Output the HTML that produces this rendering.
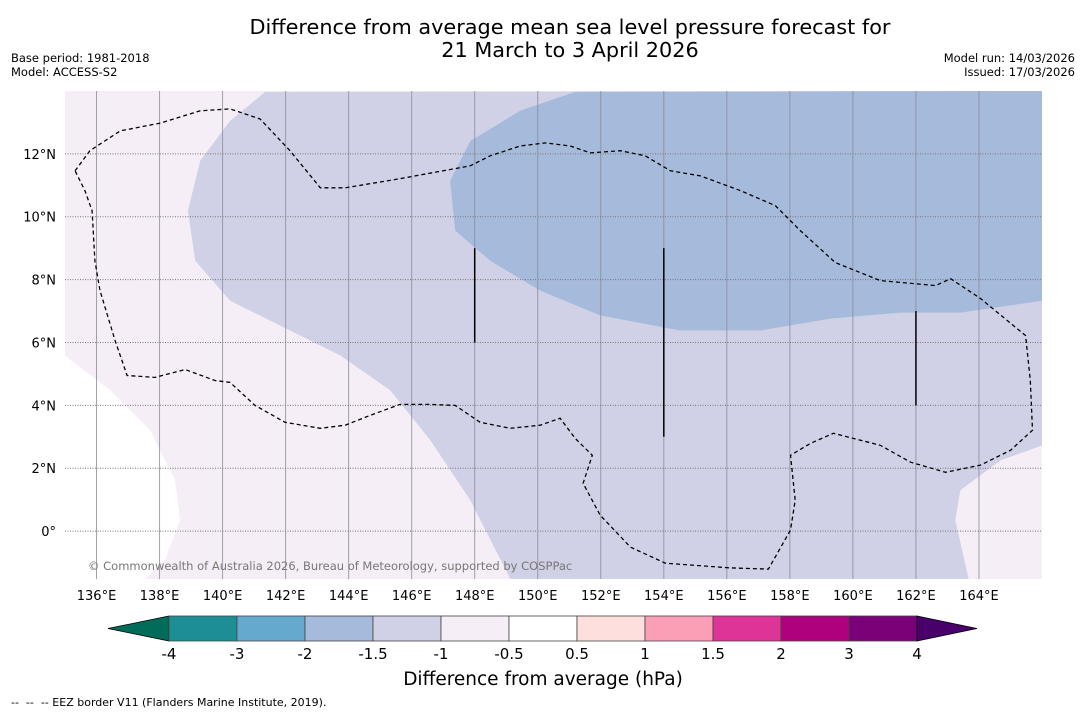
<!DOCTYPE html>
<html><head><meta charset="utf-8"><style>
body{margin:0;background:#fff;width:1085px;height:713px;overflow:hidden;font-family:"DejaVu Sans","Liberation Sans",sans-serif}
svg{display:block}
</style></head><body>
<svg id="chart" width="1085" height="713" viewBox="0 0 1085 713" xmlns="http://www.w3.org/2000/svg" font-family="DejaVu Sans, Liberation Sans, sans-serif">
<text x="570" y="34" font-size="20.8" text-anchor="middle">Difference from average mean sea level pressure forecast for</text>
<text x="570" y="57" font-size="20.8" text-anchor="middle">21 March to 3 April 2026</text>
<text x="11" y="62" font-size="11.5">Base period: 1981-2018</text>
<text x="11" y="76" font-size="11.5">Model: ACCESS-S2</text>
<text x="1075" y="62" font-size="11.5" text-anchor="end">Model run: 14/03/2026</text>
<text x="1075" y="76" font-size="11.5" text-anchor="end">Issued: 17/03/2026</text>
<g id="map"></g>
<g id="cbar"></g>
<text x="543" y="685" font-size="18.5" text-anchor="middle">Difference from average (hPa)</text>
<text x="11" y="706" font-size="11" xml:space="preserve" style="white-space:pre">--  --  -- EEZ border V11 (Flanders Marine Institute, 2019).</text>
</svg>
<script>
const lonTicks=[136,138,140,142,144,146,148,150,152,154,156,158,160,162,164];
const latTicks=[0,2,4,6,8,10,12];
const lavenderLon=[141.35,140.24,139.29,138.9,139.13,140.24,142.14,143.73,145.32,146.59,147.86,149.13,163.67,163.25,163.41,164.68,166.02,166.02];
const lavenderLat=[13.97,13.05,11.78,10.19,8.6,7.33,6.38,5.59,4.48,2.89,0.98,-1.52,-1.52,0.35,1.3,2.25,2.73,14];
const whiteLon=[135,136.43,137.7,138.49,138.65,138.17,137.54,135];
const whiteLat=[5.59,4.48,3.21,1.62,0.35,-0.92,-1.52,-1.52];
const blueLon=[151.19,149.44,147.86,147.22,147.38,148.49,150.08,151.98,154.52,157.06,159.29,161.51,163.41,166.02,166.02];
const blueLat=[13.97,13.37,12.41,11.14,9.56,8.6,7.65,6.86,6.38,6.38,6.76,6.95,6.95,7.33,14];
const eezLon=[135.32,135.79,136.75,138.02,139.29,140.24,141.19,142.14,143.1,143.89,145.63,147.86,148.49,149.44,150.24,151.03,151.67,152.62,153.41,154.21,155.16,156.43,157.54,158.33,159.44,160.87,162.62,163.1,164.05,165.48,165.63,165.7,165.0,164.05,162.94,161.83,160.87,160.24,159.38,158.65,158.02,158.17,158.02,157.32,156.11,154.05,152.94,151.98,151.44,151.73,151.19,150.71,150.08,149.13,148.17,147.38,146.59,145.63,144.68,143.89,143.1,141.98,141.03,140.24,139.76,138.81,137.86,136.97,136.59,136.11,135.95,135.86,135.63,135.32];
const eezLat=[11.46,12.1,12.73,12.98,13.37,13.43,13.11,12.1,10.92,10.92,11.21,11.62,11.94,12.25,12.35,12.25,12.03,12.1,11.94,11.46,11.3,10.83,10.35,9.56,8.54,7.97,7.81,8.03,7.4,6.22,4.79,3.21,2.57,2.1,1.87,2.19,2.73,2.89,3.11,2.79,2.41,0.98,0.03,-1.21,-1.17,-1.02,-0.51,0.51,1.52,2.41,2.95,3.59,3.37,3.27,3.46,4.0,4.03,4.03,3.68,3.37,3.27,3.46,4.0,4.73,4.79,5.14,4.89,4.95,6.06,7.65,8.6,10.19,10.83,11.46];
const segLon=[148,154,162];
const segLat0=[6,3,4];
const segLat1=[9,9,7];
const cbLevels=["-4","-3","-2","-1.5","-1","-0.5","0.5","1","1.5","2","3","4"];
const cbColors=["#1d8f94","#66a9cf","#a6bbdb","#d0d1e6","#f5eef6","#ffffff","#fde0dd","#fa9fb5","#dd3497","#ae017e","#7a0177"];
const NS="http://www.w3.org/2000/svg";
const X0=65,X1=1042,Y0=91,Y1=579;
const LON0=135,LON1=166,LAT0=-1.524,LAT1=14;
function xs(lon){return X0+(lon-LON0)/(LON1-LON0)*(X1-X0);}
function ys(lat){return Y1-(lat-LAT0)/(LAT1-LAT0)*(Y1-Y0);}
function mk(t,a,p){const e=document.createElementNS(NS,t);for(const k in a)e.setAttribute(k,a[k]);p.appendChild(e);return e;}
function pts(lo,la){return lo.map((v,i)=>xs(v).toFixed(1)+","+ys(la[i]).toFixed(1)).join(" ");}
const map=document.getElementById('map');
const defs=mk('defs',{},map);
const cp=mk('clipPath',{id:'clip'},defs);
mk('rect',{x:X0,y:Y0,width:X1-X0,height:Y1-Y0},cp);
const g=mk('g',{'clip-path':'url(#clip)'},map);
let r=mk('rect',{x:X0,y:Y0,width:X1-X0,height:Y1-Y0,fill:'#f5eef6'},g);


let p=mk('polygon',{points:pts(lavenderLon,lavenderLat),fill:'#d0d1e6'},g);


p=mk('polygon',{points:pts(whiteLon,whiteLat),fill:'#ffffff'},g);


p=mk('polygon',{points:pts(blueLon,blueLat),fill:'#a6bbdb'},g);


lonTicks.forEach(l=>{
 const ln=mk('line',{x1:xs(l),x2:xs(l),y1:Y0,y2:Y1,stroke:'#8a8a9a','stroke-width':1,opacity:0.8},g);
 
 
 const t=mk('text',{x:xs(l),y:Y1+21,'font-size':13,'text-anchor':'middle'},document.getElementById('chart'));
 t.textContent=l+"°E";
 
 
});
latTicks.forEach(l=>{
 const ln=mk('line',{x1:X0,x2:X1,y1:ys(l),y2:ys(l),stroke:'#777','stroke-width':1,'stroke-dasharray':'1,1.5'},g);
 
 
 const t=mk('text',{x:X0-9,y:ys(l)+5,'font-size':13,'text-anchor':'end'},document.getElementById('chart'));
 t.textContent=l===0?"0°":l+"°N";
 
 
});
p=mk('polyline',{points:pts(eezLon,eezLat),fill:'none',stroke:'#000','stroke-width':1.3,'stroke-dasharray':'4,3'},g);


segLon.forEach((l,i)=>{
 const ln=mk('line',{x1:xs(l),x2:xs(l),y1:ys(segLat0[i]),y2:ys(segLat1[i]),stroke:'#000','stroke-width':1.5},g);
 
 
});
const ct=mk('text',{x:88,y:570,'font-size':11.5,fill:'#777'},g);
ct.textContent="© Commonwealth of Australia 2026, Bureau of Meteorology, supported by COSPPac";


const cb=document.getElementById('cbar');
const CBX0=169,CBW=68,CBY=616,CBH=25;
const lo=mk('polygon',{points:`108,${CBY+CBH/2} ${CBX0},${CBY} ${CBX0},${CBY+CBH}`,fill:'#016c59',stroke:'#000','stroke-width':0.8},cb);


cbColors.forEach((c,i)=>{
 const b=mk('rect',{x:CBX0+i*CBW,y:CBY,width:CBW,height:CBH,fill:c,stroke:'#444','stroke-width':0.8},cb);
 
 
});
const xe=CBX0+cbColors.length*CBW;
const hi=mk('polygon',{points:`${xe},${CBY} ${xe+60},${CBY+CBH/2} ${xe},${CBY+CBH}`,fill:'#49006a',stroke:'#000','stroke-width':0.8},cb);


cbLevels.forEach((s,i)=>{
 const t=mk('text',{x:CBX0+i*CBW,y:CBY+CBH+18,'font-size':15,'text-anchor':'middle'},cb);
 t.textContent=s;
 
 
});
</script>
</body></html>
